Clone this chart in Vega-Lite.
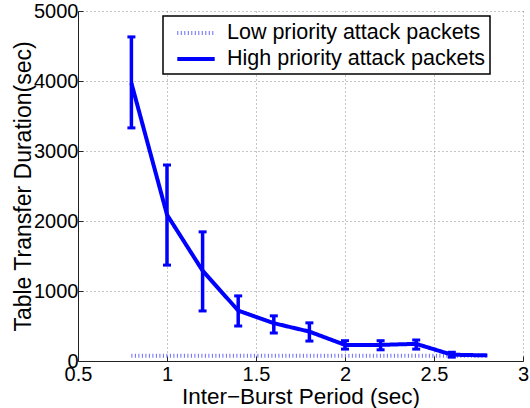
{
  "$schema": "https://vega.github.io/schema/vega-lite/v6.json",
  "width": 445,
  "height": 350,
  "autosize": {"type": "none"},
  "padding": {"left": 78, "top": 11, "right": 7, "bottom": 47},
  "background": "white",
  "config": {
    "view": {"stroke": null},
    "font": "Liberation Sans",
    "axis": {
      "labelFont": "Liberation Sans",
      "titleFont": "Liberation Sans",
      "labelFontSize": 20,
      "titleFontSize": 23,
      "titleFontWeight": "normal",
      "labelColor": "black",
      "titleColor": "black",
      "domainColor": "#222222",
      "domainWidth": 1,
      "tickColor": "#222222",
      "tickSize": -5,
      "grid": true,
      "gridDash": [1, 3],
      "gridColor": "#8a8a8a",
      "gridWidth": 1,
      "labelFlush": false,
      "labelOverlap": false
    }
  },
  "data": {
    "values": [
      {"period": 0.8, "duration": 75, "series": "Low priority attack packets"},
      {"period": 1.0, "duration": 75, "series": "Low priority attack packets"},
      {"period": 1.2, "duration": 75, "series": "Low priority attack packets"},
      {"period": 1.4, "duration": 75, "series": "Low priority attack packets"},
      {"period": 1.6, "duration": 75, "series": "Low priority attack packets"},
      {"period": 1.8, "duration": 75, "series": "Low priority attack packets"},
      {"period": 2.0, "duration": 75, "series": "Low priority attack packets"},
      {"period": 2.2, "duration": 75, "series": "Low priority attack packets"},
      {"period": 2.4, "duration": 75, "series": "Low priority attack packets"},
      {"period": 2.6, "duration": 75, "series": "Low priority attack packets"},
      {"period": 2.8, "duration": 75, "series": "Low priority attack packets"},
      {"period": 0.8, "duration": 3970, "lo": 3330, "hi": 4630, "series": "High priority attack packets"},
      {"period": 1.0, "duration": 2090, "lo": 1370, "hi": 2800, "series": "High priority attack packets"},
      {"period": 1.2, "duration": 1290, "lo": 715, "hi": 1845, "series": "High priority attack packets"},
      {"period": 1.4, "duration": 720, "lo": 500, "hi": 930, "series": "High priority attack packets"},
      {"period": 1.6, "duration": 540, "lo": 400, "hi": 645, "series": "High priority attack packets"},
      {"period": 1.8, "duration": 420, "lo": 285, "hi": 545, "series": "High priority attack packets"},
      {"period": 2.0, "duration": 230, "lo": 170, "hi": 290, "series": "High priority attack packets"},
      {"period": 2.2, "duration": 230, "lo": 160, "hi": 290, "series": "High priority attack packets"},
      {"period": 2.4, "duration": 245, "lo": 170, "hi": 300, "series": "High priority attack packets"},
      {"period": 2.6, "duration": 90, "lo": 55, "hi": 125, "series": "High priority attack packets"},
      {"period": 2.8, "duration": 80, "series": "High priority attack packets"}
    ]
  },
  "layer": [
    {
      "mark": {"type": "line", "strokeWidth": 4, "strokeCap": "butt"},
      "encoding": {
        "x": {
          "field": "period", "type": "quantitative",
          "scale": {"domain": [0.5, 3], "nice": false, "zero": false},
          "axis": {
            "values": [0.5, 1, 1.5, 2, 2.5, 3],
            "format": "~g",
            "labelPadding": 8,
            "title": "Inter−Burst Period (sec)",
            "titleFontSize": 22.5,
            "titleY": 42,
            "titleBaseline": "alphabetic"
          }
        },
        "y": {
          "field": "duration", "type": "quantitative",
          "scale": {"domain": [0, 5000], "nice": false},
          "axis": {
            "values": [0, 1000, 2000, 3000, 4000, 5000],
            "format": "d",
            "labelPadding": 5,
            "title": "Table Transfer Duration(sec)",
            "titleAngle": 270,
            "titleX": -48,
            "titleY": 175,
            "titleAlign": "center",
            "titleBaseline": "alphabetic"
          }
        },
        "color": {
          "field": "series", "type": "nominal",
          "scale": {"domain": ["Low priority attack packets", "High priority attack packets"], "range": ["#6b6bff", "#0000ff"]},
          "legend": {
            "orient": "none", "legendX": 85, "legendY": 5, "title": null,
            "labelFontSize": 21.5, "labelFont": "Liberation Sans", "labelColor": "black", "labelLimit": 500,
            "symbolType": "M-1.7,0H1.7", "symbolSize": 484, "symbolStrokeWidth": 4,
            "symbolOffset": 16, "labelOffset": 18, "padding": 4, "rowPadding": 2,
            "strokeColor": "black", "fillColor": "white",
            "encode": {"legend": {"update": {"strokeWidth": {"value": 1.5}}}}
          }
        },
        "strokeDash": {
          "field": "series", "type": "nominal",
          "scale": {"domain": ["Low priority attack packets", "High priority attack packets"], "range": [[1, 2.5], [1, 0]]},
          "legend": {
            "orient": "none", "legendX": 85, "legendY": 5, "title": null,
            "labelFontSize": 21.5, "labelFont": "Liberation Sans", "labelColor": "black", "labelLimit": 500,
            "symbolType": "M-1.7,0H1.7", "symbolSize": 484, "symbolStrokeWidth": 4,
            "symbolOffset": 16, "labelOffset": 18, "padding": 4, "rowPadding": 2,
            "strokeColor": "black", "fillColor": "white",
            "encode": {"legend": {"update": {"strokeWidth": {"value": 1.5}}}}
          }
        }
      }
    },
    {
      "transform": [{"filter": "isValid(datum.lo)"}],
      "mark": {"type": "rule", "strokeWidth": 3.5, "color": "#0000ff"},
      "encoding": {
        "x": {"field": "period", "type": "quantitative"},
        "y": {"field": "lo", "type": "quantitative"},
        "y2": {"field": "hi"}
      }
    },
    {
      "transform": [{"filter": "isValid(datum.lo)"}],
      "mark": {"type": "tick", "orient": "horizontal", "size": 8, "thickness": 3, "color": "#0000ff", "opacity": 1},
      "encoding": {
        "x": {"field": "period", "type": "quantitative"},
        "y": {"field": "lo", "type": "quantitative"}
      }
    },
    {
      "transform": [{"filter": "isValid(datum.hi)"}],
      "mark": {"type": "tick", "orient": "horizontal", "size": 8, "thickness": 3, "color": "#0000ff", "opacity": 1},
      "encoding": {
        "x": {"field": "period", "type": "quantitative"},
        "y": {"field": "hi", "type": "quantitative"}
      }
    }
  ]
}
